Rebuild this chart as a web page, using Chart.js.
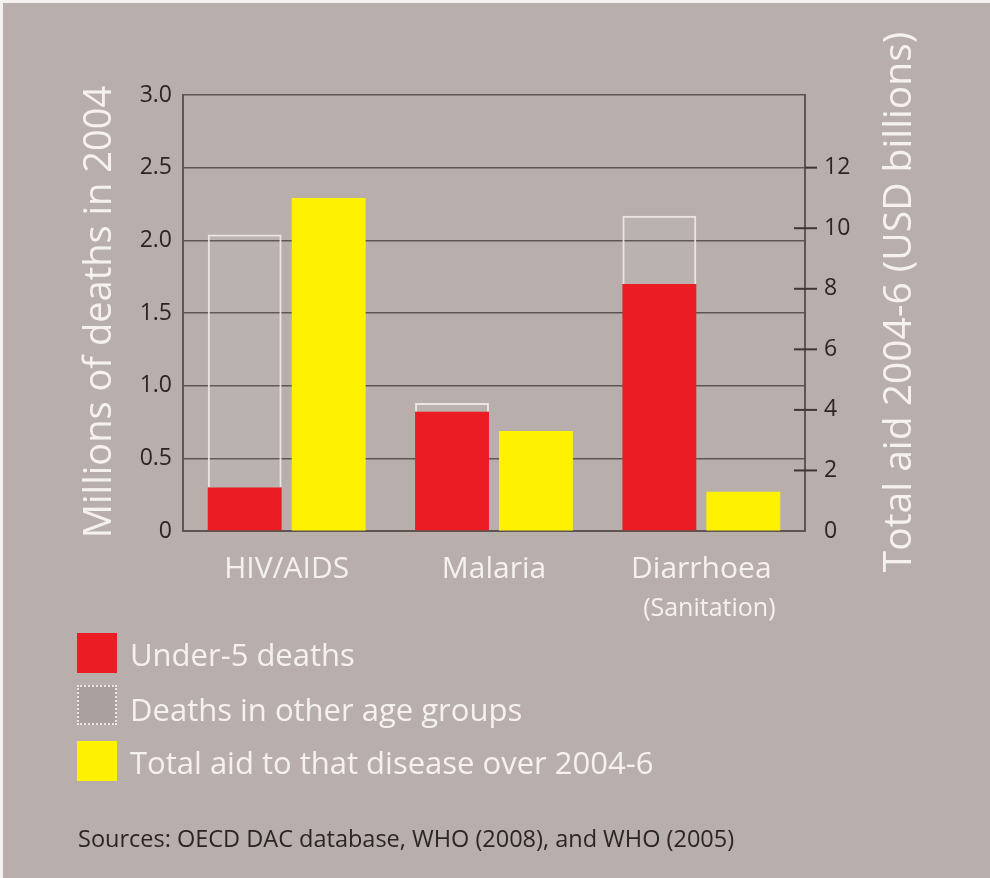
<!DOCTYPE html>
<html>
<head>
<meta charset="utf-8">
<script src="https://cdn.jsdelivr.net/npm/chart.js@4.4.1/dist/chart.umd.min.js"></script>
<style>
  html, body { margin: 0; padding: 0; }
  body { width: 990px; height: 878px; background: #b8afac; position: relative; overflow: hidden; font-family: "Open Sans", "Noto Sans", sans-serif; }
  #wrap { position: absolute; left: 0; top: 0; width: 990px; height: 878px; }
  #frame { position: absolute; left: 0; top: 0; width: 990px; height: 878px; box-sizing: border-box; border-top: 3px solid #f4f2f1; border-left: 3px solid #f4f2f1; pointer-events: none; }
  .key { position: absolute; left: 77px; width: 40px; height: 40px; box-sizing: border-box; }
  .lbl { position: absolute; left: 130px; color: #f5f1ef; font-size: 31px; line-height: 40px; white-space: nowrap; }
  #source { position: absolute; left: 78px; top: 823px; color: #2b2523; font-size: 23.5px; line-height: 30px; white-space: nowrap; }
</style>
</head>
<body>
<div id="wrap"><canvas id="chart" width="990" height="878"></canvas></div>

<div class="key" style="top:633px;background:#ec1c24;"></div>
<div class="lbl" style="top:634px;">Under-5 deaths</div>
<div class="key" style="top:685px;border:2px dotted #ece7e5;background:#aaa19f;"></div>
<div class="lbl" style="top:689px;">Deaths in other age groups</div>
<div class="key" style="top:741px;background:#fff200;"></div>
<div class="lbl" style="top:742px;">Total aid to that disease over 2004-6</div>
<div id="source">Sources: OECD DAC database, WHO (2008), and WHO (2005)</div>
<div id="frame"></div>

<script>
// data
const diseases = ['HIV/AIDS', 'Malaria', 'Diarrhoea'];
const subLabels = ['', '', '(Sanitation)'];
const under5Deaths = [0.30, 0.82, 1.70];      // millions
const otherAgeDeaths = [1.74, 0.06, 0.47];    // millions, on top of under-5
const totalAid = [11.0, 3.3, 1.3];            // USD billions, 2004-6
const leftTitle = 'Millions of deaths in 2004';
const rightTitle = 'Total aid 2004-6 (USD billions)';

const gridColor = '#5e5553';
const fontFamily = '"Open Sans", "Noto Sans", sans-serif';
const tickFont = { family: fontFamily, size: 23 };

// titles, right-axis dashes and the second line under Diarrhoea
const overlay = {
  id: 'overlay',
  afterDraw(chart) {
    const ctx = chart.ctx;
    const y2 = chart.scales.y2;
    const x = chart.scales.x;
    ctx.save();
    ctx.strokeStyle = '#3e3634';
    ctx.lineWidth = 2;
    y2.ticks.forEach(t => {
      if (t.value === 0) return;
      const py = y2.getPixelForValue(t.value);
      const x0 = t.value === 12 ? y2.left : y2.left - 11;
      ctx.beginPath();
      ctx.moveTo(x0, py);
      ctx.lineTo(y2.left + 12, py);
      ctx.stroke();
    });

    ctx.fillStyle = '#f5f1ef';
    ctx.textAlign = 'center';
    ctx.textBaseline = 'middle';
    ctx.save();
    ctx.font = '38px ' + fontFamily;
    ctx.translate(100, 312);
    ctx.rotate(-Math.PI / 2);
    ctx.fillText(leftTitle, 0, 0);
    ctx.restore();
    ctx.save();
    ctx.font = '39px ' + fontFamily;
    ctx.translate(900, 302);
    ctx.rotate(-Math.PI / 2);
    ctx.fillText(rightTitle, 0, 0);
    ctx.restore();

    ctx.font = '25px ' + fontFamily;
    subLabels.forEach((s, i) => {
      if (!s) return;
      ctx.fillText(s, x.getPixelForTick(i) + 8, 609);
    });
    ctx.restore();
  }
};

new Chart(document.getElementById('chart'), {
  type: 'bar',
  data: {
    labels: diseases,
    datasets: [
      {
        label: 'Under-5 deaths',
        data: under5Deaths,
        backgroundColor: '#ec1c24',
        stack: 'deaths',
        yAxisID: 'y',
        barPercentage: 0.88,
        categoryPercentage: 0.81
      },
      {
        label: 'Deaths in other age groups',
        data: otherAgeDeaths,
        backgroundColor: 'rgba(255,255,255,0.04)',
        borderColor: 'rgba(240,235,233,0.9)',
        borderWidth: 2,
        borderSkipped: 'bottom',
        stack: 'deaths',
        yAxisID: 'y',
        barPercentage: 0.88,
        categoryPercentage: 0.81
      },
      {
        label: 'Total aid to that disease over 2004-6',
        data: totalAid,
        backgroundColor: '#fff200',
        stack: 'aid',
        yAxisID: 'y2',
        barPercentage: 0.88,
        categoryPercentage: 0.81
      }
    ]
  },
  options: {
    responsive: false,
    animation: false,
    devicePixelRatio: 1,
    layout: { padding: { top: 95, left: 0, right: 0, bottom: 0 } },
    plugins: {
      legend: { display: false },
      tooltip: { enabled: false }
    },
    scales: {
      x: {
        stacked: true,
        grid: { display: false, drawTicks: false },
        border: { display: true, color: gridColor, width: 2 },
        ticks: { color: '#f5f1ef', font: { family: fontFamily, size: 30 }, padding: 20 },
        afterFit(scale) { scale.height = 347; }
      },
      y: {
        stacked: true,
        position: 'left',
        min: 0,
        max: 3,
        ticks: {
          stepSize: 0.5,
          color: '#2b2523',
          font: tickFont,
          padding: 11,
          callback: v => (v === 0 ? '0' : v.toFixed(1))
        },
        grid: { color: gridColor, lineWidth: 1.5, drawTicks: false },
        border: { display: true, color: gridColor, width: 2 },
        afterFit(scale) { scale.width = 183; }
      },
      y2: {
        position: 'right',
        min: 0,
        max: 14.4,
        afterBuildTicks(scale) {
          scale.ticks = [0, 2, 4, 6, 8, 10, 12].map(v => ({ value: v }));
        },
        ticks: { color: '#2b2523', font: tickFont, padding: 19 },
        grid: { drawOnChartArea: false, drawTicks: false },
        border: { display: true, color: gridColor, width: 2 },
        afterFit(scale) { scale.width = 185; }
      }
    }
  },
  plugins: [overlay]
});
</script>
</body>
</html>
